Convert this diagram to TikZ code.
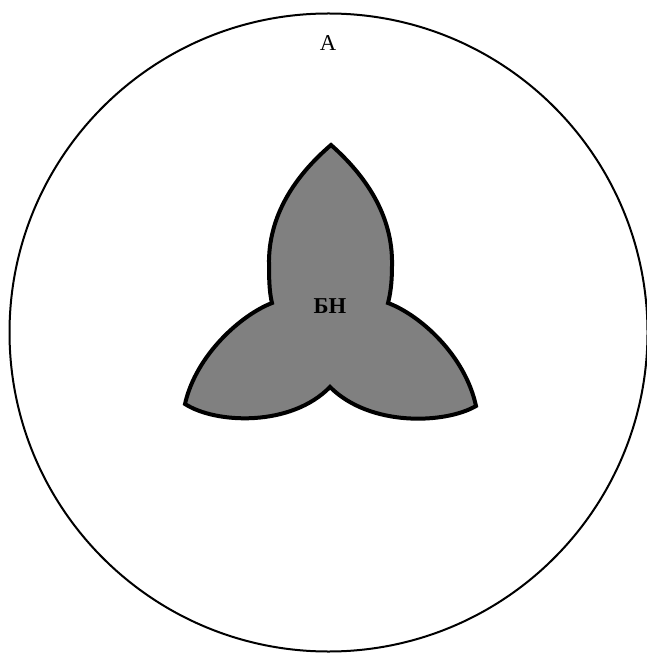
\documentclass[tikz,border=0pt]{standalone}
\usepackage{fontspec}
\setmainfont{Liberation Serif}

\begin{document}
\begin{tikzpicture}[x=.75pt,y=-.75pt,font=\fontsize{17}{20}\selectfont]
\useasboundingbox (0,0) rectangle (646,655);
\draw[black,line width=1.5pt] (328.5,332.5) circle[radius=319];
\node[anchor=center] (setA) at (328,43) {А};
\path[fill=black!50,draw=black,line width=3pt,line join=miter]
  (331,145) .. controls (365,175) and (393,215) .. (392,265)
  .. controls (392,285) and (390,295) .. (388,303)
  .. controls (420,315) and (465,355) .. (476,406)
  .. controls (445,424) and (370,427) .. (330,387)
  .. controls (291,427) and (216,424) .. (185,404)
  .. controls (196,355) and (241,315) .. (272,303)
  .. controls (270,295) and (269,285) .. (269,265)
  .. controls (268,215) and (296,175) .. (331,145) -- cycle;
\node[font=\fontsize{17}{20}\selectfont\bfseries] (setBN) at (330,306) {БН};
\end{tikzpicture}
\end{document}
